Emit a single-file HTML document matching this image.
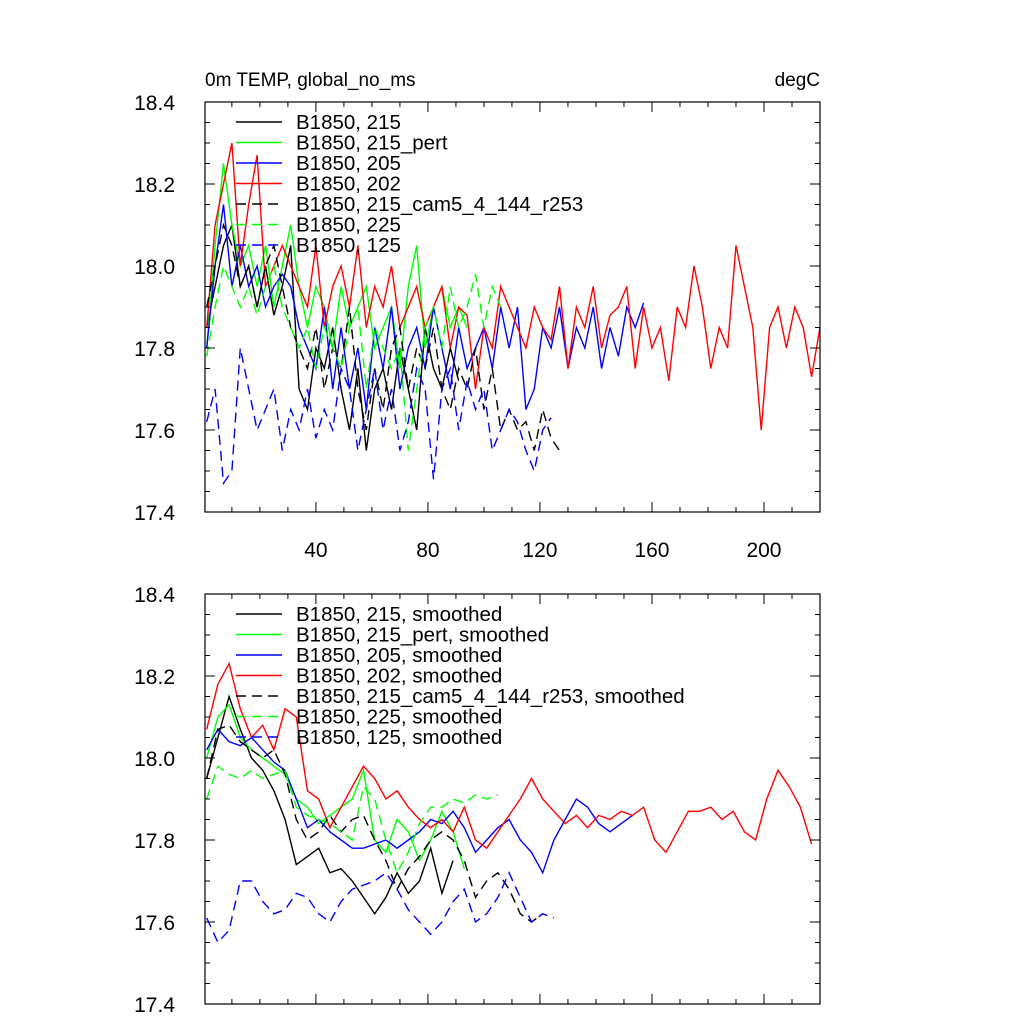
<!DOCTYPE html>
<html><head><meta charset="utf-8"><style>
body{margin:0;background:#fff}
svg{display:block;font-family:"Liberation Sans",sans-serif}
</style></head><body>
<svg id="chart" width="1024" height="1024" xmlns="http://www.w3.org/2000/svg">
<text x="205" y="86" font-size="19">0m TEMP, global_no_ms</text>
<text x="820" y="86" font-size="19" text-anchor="end">degC</text>
</svg>
<script>
const xTicks=[40,80,120,160,200];
const yTicks=[17.4,17.6,17.8,18.0,18.2,18.4];
const yTickLabels=["17.4","17.6","17.8","18.0","18.2","18.4"];
// top panel series (annual, step 3 yrs from year 1)
const red=[17.85,18.1,18.2,18.3,18.0,18.15,18.27,17.95,18.0,18.05,18.0,17.95,17.9,18.05,17.85,17.95,18.0,17.9,18.05,17.85,17.95,17.9,18.0,17.85,17.9,17.95,17.85,17.9,17.95,17.8,17.9,17.88,17.7,17.85,17.8,17.95,17.9,17.85,17.8,17.9,17.85,17.82,17.95,17.75,17.9,17.85,17.95,17.8,17.88,17.9,17.95,17.75,17.9,17.8,17.85,17.72,17.9,17.85,18.0,17.9,17.75,17.85,17.8,18.05,17.95,17.85,17.6,17.85,17.9,17.8,17.9,17.85,17.73,17.85];
const black=[17.85,17.95,18.05,18.1,17.95,18.0,17.9,18.0,17.88,17.95,18.05,17.7,17.65,17.8,17.75,17.85,17.7,17.6,17.75,17.55,17.7,17.75,17.65,17.8,17.7,17.6,17.85,17.75,17.7,17.8,17.72];
const green=[17.8,18.05,18.25,18.1,18.0,18.05,17.95,18.05,17.9,18.0,18.1,17.95,17.85,17.95,17.9,17.8,17.95,17.85,17.9,17.95,17.8,17.85,17.9,17.75,17.95,18.05,17.8,17.9,17.95,17.85,17.9,17.85];
const blue=[17.8,18.0,18.15,17.95,18.05,17.95,18.0,17.9,17.95,17.98,17.95,17.85,17.8,17.75,17.9,17.7,17.85,17.7,17.8,17.65,17.85,17.75,17.9,17.7,17.8,17.85,17.75,17.9,17.8,17.7,17.85,17.75,17.8,17.85,17.75,17.9,17.8,17.9,17.65,17.7,17.85,17.8,17.9,17.75,17.85,17.8,17.9,17.75,17.85,17.78,17.9,17.85,17.91];
const blackDash=[17.9,18.0,18.1,18.05,17.95,18.0,17.9,18.0,18.05,17.95,17.85,17.8,17.75,17.85,17.7,17.8,17.75,17.9,17.7,17.6,17.75,17.65,17.8,17.85,17.7,17.8,17.75,17.85,17.7,17.65,17.75,17.7,17.8,17.65,17.75,17.6,17.65,17.6,17.62,17.55,17.65,17.58,17.55];
const greenDash=[17.78,17.9,18.0,17.95,17.9,17.95,17.88,17.95,18.0,17.9,17.85,17.8,17.85,17.75,17.85,17.8,17.75,17.85,17.9,17.7,17.85,17.8,17.75,17.8,17.55,17.7,17.85,17.9,17.8,17.95,17.85,17.9,17.98,17.85,17.95,17.9];
const blueDash=[17.62,17.7,17.47,17.5,17.8,17.7,17.6,17.65,17.7,17.55,17.65,17.6,17.7,17.58,17.65,17.6,17.75,17.7,17.55,17.65,17.75,17.6,17.7,17.55,17.62,17.75,17.7,17.48,17.7,17.75,17.6,17.72,17.65,17.7,17.55,17.6,17.65,17.62,17.55,17.5,17.6,17.63];
// bottom panel smoothed series (step 4 yrs from year 1)
const redS=[18.07,18.18,18.23,18.12,18.05,18.08,18.02,18.12,18.1,17.92,17.9,17.83,17.88,17.93,17.98,17.95,17.9,17.92,17.88,17.85,17.83,17.85,17.82,17.88,17.8,17.78,17.82,17.86,17.9,17.95,17.9,17.87,17.84,17.86,17.83,17.86,17.85,17.87,17.86,17.88,17.8,17.77,17.82,17.87,17.87,17.88,17.85,17.87,17.82,17.8,17.9,17.97,17.93,17.88,17.79];
const blackS=[17.95,18.05,18.15,18.07,18.0,17.97,17.92,17.85,17.74,17.76,17.78,17.72,17.73,17.7,17.66,17.62,17.66,17.72,17.67,17.7,17.78,17.67,17.75];
const greenS=[18.0,18.1,18.13,18.05,18.02,18.0,17.98,17.96,17.9,17.88,17.84,17.86,17.88,17.9,17.97,17.8,17.77,17.85,17.82,17.75,17.8,17.87,17.82,17.73];
const blueS=[18.02,18.07,18.04,18.03,18.05,18.02,17.99,17.97,17.9,17.83,17.85,17.82,17.8,17.78,17.78,17.79,17.8,17.78,17.8,17.82,17.85,17.84,17.87,17.83,17.77,17.8,17.83,17.85,17.8,17.77,17.72,17.8,17.85,17.9,17.88,17.84,17.82,17.84,17.86];
const blackDashS=[17.95,18.07,18.08,18.04,18.02,18.0,18.02,17.96,17.85,17.8,17.82,17.86,17.82,17.85,17.86,17.8,17.75,17.68,17.73,17.76,17.8,17.82,17.8,17.75,17.66,17.7,17.72,17.68,17.62,17.6,17.62];
const greenDashS=[17.9,17.98,17.96,17.95,17.97,17.95,17.96,17.97,17.88,17.86,17.85,17.84,17.82,17.8,17.93,17.9,17.8,17.72,17.77,17.84,17.88,17.88,17.9,17.89,17.91,17.9,17.91];
const blueDashS=[17.61,17.55,17.58,17.7,17.7,17.65,17.62,17.63,17.67,17.66,17.62,17.6,17.65,17.68,17.69,17.7,17.72,17.68,17.63,17.6,17.57,17.6,17.65,17.68,17.6,17.62,17.66,17.72,17.66,17.6,17.62,17.61];
const topNames=["B1850, 215","B1850, 215_pert","B1850, 205","B1850, 202","B1850, 215_cam5_4_144_r253","B1850, 225","B1850, 125"];
const botNames=topNames.map(n=>n+", smoothed");

const NS="http://www.w3.org/2000/svg";
const svg=document.getElementById('chart');
const X0=205,X1=820,XMIN=0.4,XMAX=220;
const xs=v=>X0+(v-XMIN)/(XMAX-XMIN)*(X1-X0);
function mk(tag,attrs,parent){const e=document.createElementNS(NS,tag);for(const k in attrs)e.setAttribute(k,attrs[k]);(parent||svg).appendChild(e);return e;}

function panel(top,bottom,series,names,step,pname,showX){
  const ys=v=>bottom-(v-17.4)/1.0*(bottom-top);
  const g=mk('g',{});
  
  
  const clip=mk('clipPath',{id:pname+'-clip'},g);
  mk('rect',{x:X0,y:top,width:X1-X0,height:bottom-top},clip);
  const sg=mk('g',{'clip-path':'url(#'+pname+'-clip)'},g);
  const styles=[['#000',''],['#00ff00',''],['#0000ff',''],['#ff0000',''],['#000','10,6'],['#00ff00','10,6'],['#0000ff','10,6']];
  series.forEach((arr,i)=>{
    const pts=arr.map((v,j)=>xs(1+j*step).toFixed(1)+','+ys(v).toFixed(1)).join(' ');
    const p=mk('polyline',{points:pts,fill:'none',stroke:styles[i][0],'stroke-width':1.4,'stroke-dasharray':styles[i][1]},sg);
    
    
  });
  const fr=mk('rect',{x:X0,y:top,width:X1-X0,height:bottom-top,fill:'none',stroke:'#000','stroke-width':1.2},g);
  
  
  for(let t=10;t<=XMAX;t+=10){
    const x=xs(t),L=(t%40===0)?10:5;
    mk('line',{x1:x,x2:x,y1:bottom,y2:bottom-L,stroke:'#000'},g);
    mk('line',{x1:x,x2:x,y1:top,y2:top+L,stroke:'#000'},g);
  }
  if(showX) xTicks.forEach(t=>{
    const tl=mk('text',{x:xs(t),y:bottom+45,'font-size':21,'text-anchor':'middle'},g);
    tl.textContent=String(t);
    
    
  });
  for(let k=0;k<=20;k++){
    const v=17.4+k*0.05,y=ys(v),L=(k%4===0)?10:5;
    mk('line',{x1:X0,x2:X0+L,y1:y,y2:y,stroke:'#000'},g);
    mk('line',{x1:X1,x2:X1-L,y1:y,y2:y,stroke:'#000'},g);
  }
  yTicks.forEach((v,i)=>{
    const tl=mk('text',{x:X0-30,y:ys(v)+8,'font-size':21,'text-anchor':'end'},g);
    tl.textContent=yTickLabels[i];
    
    
  });
  names.forEach((n,i)=>{
    const y=top+20+i*20.5;
    const lg=mk('g',{},g);
    
    
    mk('line',{x1:236,x2:282,y1:y,y2:y,stroke:styles[i][0],'stroke-width':1.4,'stroke-dasharray':styles[i][1]},lg);
    const t=mk('text',{x:296,y:y+7,'font-size':20.5},lg);
    t.textContent=n;
  });
}
panel(102,512,[black,green,blue,red,blackDash,greenDash,blueDash],topNames,3,'top-panel',true);
panel(594,1004,[blackS,greenS,blueS,redS,blackDashS,greenDashS,blueDashS],botNames,4,'bottom-panel',false);
</script>
</body></html>
